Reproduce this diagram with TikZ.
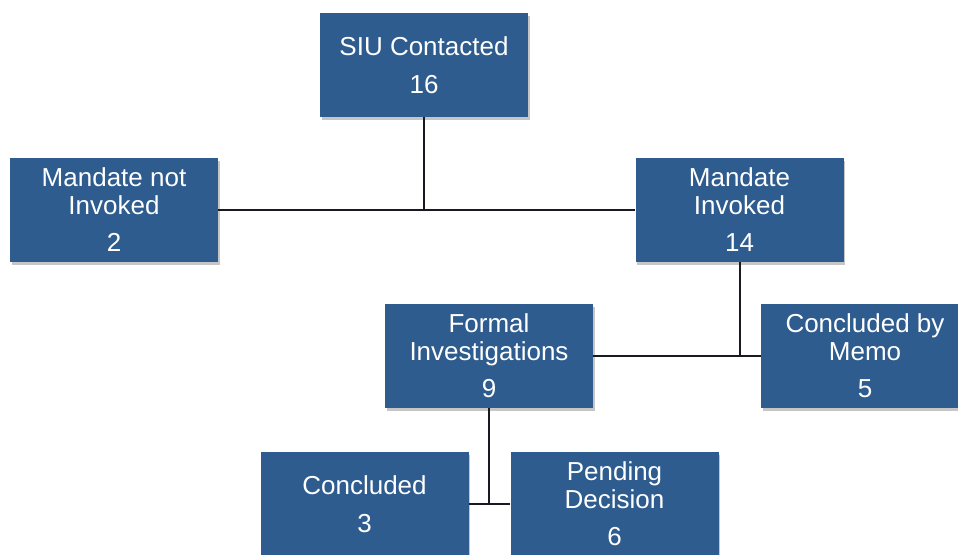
\documentclass[tikz,border=0pt]{standalone}
\usepackage{fontspec}
\setmainfont{Liberation Sans}
\usetikzlibrary{shadows}
\definecolor{boxblue}{RGB}{46,92,142}
\definecolor{linedark}{RGB}{25,25,35}

\begin{document}
\begin{tikzpicture}[x=1pt,y=-1pt,
	box/.style={draw=none,fill=boxblue,text=white,align=center,inner sep=0pt,
		minimum width=208pt,minimum height=104pt,
		font=\fontsize{26}{28}\selectfont,
		drop shadow={shadow xshift=1.5pt,shadow yshift=-2.5pt,opacity=0.45}},
	link/.style={draw=linedark,line width=2pt}]
	\useasboundingbox (0,0) rectangle (958,554);
	\clip (0,0) rectangle (958,554);
	\node[box] (siu) at (424,65) {SIU Contacted\\[10pt]16};
	\node[box] (notinv) at (114,210) {Mandate not\\Invoked\\[9pt]2};
	\node[box] (inv) at (739.5,210) {Mandate\\Invoked\\[9pt]14};
	\node[box] (formal) at (489,356) {Formal\\Investigations\\[9pt]9};
	\node[box] (memo) at (865,356) {Concluded by\\Memo\\[9pt]5};
	\node[box] (concl) at (364.5,504) {Concluded\\[10pt]3};
	\node[box] (pend) at (614.5,504) {Pending\\Decision\\[9pt]6};
	\draw[link] (notinv) -- (inv);
	\draw[link] (siu) -- (siu |- notinv);
	\draw[link] (formal) -- (memo);
	\draw[link] (inv) -- (inv |- formal);
	\draw[link] (concl) -- (pend);
	\draw[link] (formal) -- (formal |- concl);
\end{tikzpicture}
\end{document}
